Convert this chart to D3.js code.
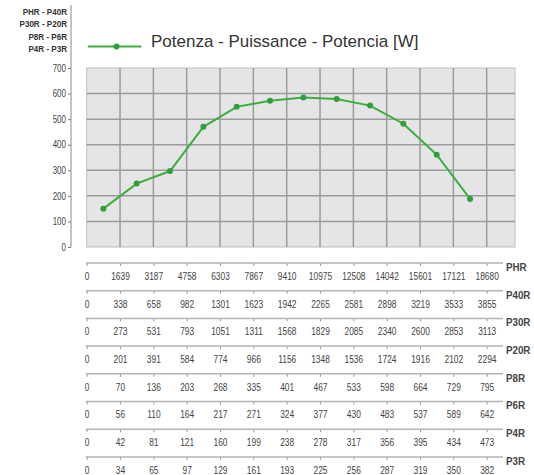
<!DOCTYPE html>
<html><head><meta charset="utf-8">
<script src="https://cdn.jsdelivr.net/npm/d3@7"></script>
<style>
body{margin:0;background:#fff;}
svg{display:block;}
</style></head>
<body>
<svg id="c" width="534" height="475"></svg>
<script>
// ---- data ----
const seriesName = "Potenza - Puissance - Potencia [W]";
const power = [150, 248, 297, 470, 548, 572, 585, 579, 553, 482, 361, 188];
const yTicks = [0, 100, 200, 300, 400, 500, 600, 700];
const modelGroups = ["PHR - P40R", "P30R - P20R", "P8R - P6R", "P4R - P3R"];
const rowNames = ["PHR", "P40R", "P30R", "P20R", "P8R", "P6R", "P4R", "P3R"];
const rowPHR  = [0,1639,3187,4758,6303,7867,9410,10975,12508,14042,15601,17121,18680];
const rowP40R = [0,338,658,982,1301,1623,1942,2265,2581,2898,3219,3533,3855];
const rowP30R = [0,273,531,793,1051,1311,1568,1829,2085,2340,2600,2853,3113];
const rowP20R = [0,201,391,584,774,966,1156,1348,1536,1724,1916,2102,2294];
const rowP8R  = [0,70,136,203,268,335,401,467,533,598,664,729,795];
const rowP6R  = [0,56,110,164,217,271,324,377,430,483,537,589,642];
const rowP4R  = [0,42,81,121,160,199,238,278,317,356,395,434,473];
const rowP3R  = [0,34,65,97,129,161,193,225,256,287,319,350,382];
const rows = [rowPHR,rowP40R,rowP30R,rowP20R,rowP8R,rowP6R,rowP4R,rowP3R];

// ---- layout ----
const svg = d3.select("#c");
const plotL = 86.7, plotR = 515, plotT = 68, plotB = 247;
const axisEnd = 486.7;
const sans = "'Liberation Sans',Arial,sans-serif";
const squeeze = "scale(0.8,1)";

const x = d3.scaleBand().domain(d3.range(power.length)).range([plotL, axisEnd]).paddingInner(0).paddingOuter(0);
const y = d3.scaleLinear().domain([0, 700]).range([plotB, plotT]);

// plot background
svg.append("rect").attr("x", plotL).attr("y", plotT).attr("width", plotR - plotL).attr("height", plotB - plotT)
  .attr("fill", "#e5e5e7").attr("stroke", "#bdbdbd").attr("stroke-width", 1);

// grid
const g = svg.append("g");
g.selectAll("line.h").data(yTicks.filter(v => v > 0 && v < 700)).join("line")
  .attr("x1", plotL).attr("x2", plotR).attr("y1", d => y(d)).attr("y2", d => y(d))
  .attr("stroke", "#9b9b9b").attr("stroke-width", 1.5);
g.selectAll("line.v").data(d3.range(1, power.length + 1)).join("line")
  .attr("x1", d => plotL + d * x.bandwidth()).attr("x2", d => plotL + d * x.bandwidth())
  .attr("y1", plotT).attr("y2", plotB)
  .attr("stroke", "#9b9b9b").attr("stroke-width", 1.5);

// y axis
const yAxis = svg.append("g").attr("transform", "translate(71,0)")
  .call(d3.axisLeft(y).tickValues(yTicks).tickSize(3).tickPadding(2));
yAxis.select(".domain").remove();
yAxis.selectAll(".tick line").attr("stroke", "#777");
yAxis.selectAll("text").attr("font-family", sans).attr("font-size", 10).attr("fill", "#444")
  .attr("x", -5 / 0.8).attr("transform", squeeze);
svg.append("line").attr("x1", 71).attr("x2", 71).attr("y1", 5).attr("y2", plotB)
  .attr("stroke", "#888").attr("stroke-width", 1);

// model group labels
svg.selectAll("text.grp").data(modelGroups).join("text")
  .attr("x", 67 / 0.85).attr("y", (d, i) => 15 + i * 12.3)
  .attr("transform", "scale(0.85,1)")
  .attr("text-anchor", "end").attr("font-family", sans).attr("font-weight", "bold")
  .attr("font-size", 9.5).attr("fill", "#333").text(d => d);

// series line
const green = "#3cae3c";
svg.append("path").datum(power)
  .attr("d", d3.line().x((d, i) => x(i) + x.bandwidth() / 2).y(d => y(d)))
  .attr("fill", "none").attr("stroke", green).attr("stroke-width", 2);
svg.selectAll("circle.pt").data(power).join("circle")
  .attr("cx", (d, i) => x(i) + x.bandwidth() / 2).attr("cy", d => y(d)).attr("r", 3)
  .attr("fill", "#2f9e3c");

// legend
svg.append("line").attr("x1", 88).attr("x2", 141.5).attr("y1", 46.5).attr("y2", 46.5)
  .attr("stroke", green).attr("stroke-width", 2);
svg.append("circle").attr("cx", 116.5).attr("cy", 46.5).attr("r", 3).attr("fill", "#2f9e3c");
svg.append("text").attr("x", 151).attr("y", 47).attr("font-family", sans).attr("font-size", 17)
  .attr("fill", "#333").text(seriesName);

// bottom scale rows
const rowTop = 263, rowStep = 27.7;
rows.forEach((vals, r) => {
  const sc = d3.scalePoint().domain(vals).range([plotL, axisEnd]);
  const yy = rowTop + r * rowStep;
  const ax = svg.append("g").attr("transform", `translate(0,${yy})`)
    .call(d3.axisBottom(sc).tickSize(3).tickSizeOuter(0).tickPadding(6));
  ax.select(".domain").remove();
  ax.selectAll(".tick line").attr("stroke", "#999");
  ax.selectAll("text").attr("font-family", sans).attr("font-size", 10.5).attr("fill", "#444")
    .attr("transform", squeeze).attr("y", 9.5);
  svg.append("line").attr("x1", plotL - 1).attr("x2", 503).attr("y1", yy).attr("y2", yy)
    .attr("stroke", "#b3b3b3").attr("stroke-width", 1.5);
  svg.append("text").attr("x", 506 / 0.85).attr("y", yy + 8).attr("transform", "scale(0.85,1)")
    .attr("font-family", sans)
    .attr("font-weight", "bold").attr("font-size", 11.5).attr("fill", "#444").text(rowNames[r]);
});
</script>
</body></html>
